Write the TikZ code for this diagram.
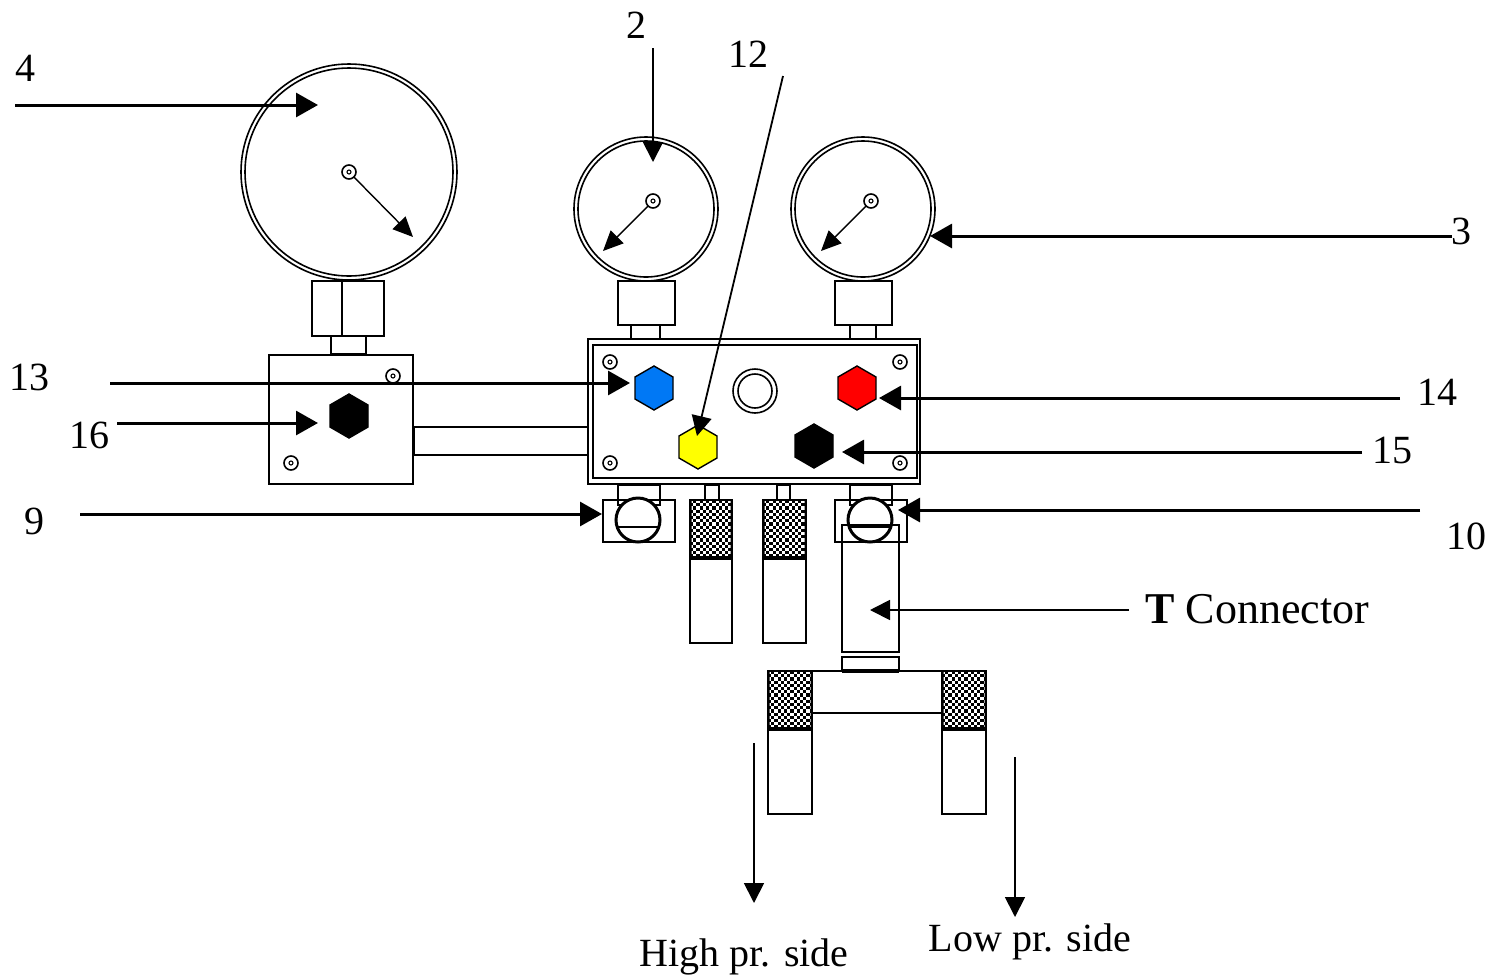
\documentclass[tikz,border=0pt]{standalone}
\usepackage{fontspec}
\setmainfont{Liberation Serif}
\usetikzlibrary{arrows.meta}
\tikzset{
  part/.style={draw=black,line width=1pt,fill=white},
  partopen/.style={draw=black,line width=1pt},
  thinring/.style={draw=black,line width=0.55pt},
  bigarrow/.style={draw=black,line width=1.5pt,-{Triangle[length=11pt,width=12pt]}},
  midarrow/.style={draw=black,line width=0.9pt,-{Triangle[length=10pt,width=10pt]}},
  needle/.style={draw=black,line width=0.7pt,-{Triangle[length=10pt,width=9pt]}},
  lbl/.style={font=\fontsize{20}{20}\selectfont,inner sep=0pt,text=black},
  lblbig/.style={font=\fontsize{22}{22}\selectfont,inner sep=0pt,text=black},
  hexagon/.style={draw=black,line width=0.7pt}
}
\definecolor{hexblue}{RGB}{0,120,245}
\definecolor{hexred}{RGB}{255,0,0}
\definecolor{hexyellow}{RGB}{255,255,0}
% checker block: x1,y1,x2,y2 in px
\newcommand{\checker}[4]{%
  \fill[black] (#1,#2) rectangle (#3,#4);
  \begin{scope}
    \clip (#1+1.5,#2+1.5) rectangle (#3-1.5,#4-3);
    \foreach \ci in {0,...,15}{\foreach \cj in {0,...,19}{%
      \pgfmathparse{int(mod(\ci+\cj,2))}%
      \ifnum\pgfmathresult=0
        \fill[white] (#1+\ci*3.2,#2+\cj*3.2) rectangle +(3.2,3.2);
      \fi}}
  \end{scope}
  \draw[line width=1pt] (#1,#2) rectangle (#3,#4);
  \draw[line width=2pt] (#1,#4) -- (#3,#4);
}
\newcommand{\hexa}[3]{% cx,cy,colour
  \fill[#3,hexagon] (#1,#2-22) -- (#1+19,#2-11) -- (#1+19,#2+11) -- (#1,#2+22) -- (#1-19,#2+11) -- (#1-19,#2-11) -- cycle;
}
\newcommand{\screw}[2]{%
  \draw[thinring,line width=0.8pt] (#1,#2) circle (7);
  \draw[thinring] (#1,#2) circle (2);
}
\begin{document}
\begin{tikzpicture}[x=0.5pt,y=-0.5pt]
\useasboundingbox (0,0) rectangle (1490,976);
\fill[white] (0,0) rectangle (1490,976);

% left gauge stem and block
\draw[part] (331,336) rectangle (366,354);
\draw[part] (312,281) rectangle (384,336);
\draw[partopen] (342,281) -- (342,337);
\draw[part] (269,355) rectangle (413,484);
\screw{393}{376}
\screw{291}{463}
\hexa{349}{416}{black}
\draw[part] (414,427) rectangle (588,455);

% gauges
\draw[thinring,line width=0.8pt] (349,172) circle (108);
\draw[thinring,line width=0.8pt] (349,172) circle (104);
\draw[thinring,line width=0.8pt] (646,209) circle (72);
\draw[thinring,line width=0.8pt] (646,209) circle (68);
\draw[thinring,line width=0.8pt] (863,209) circle (72);
\draw[thinring,line width=0.8pt] (863,209) circle (68);

% stems
\draw[part] (631,325) rectangle (660,339);
\draw[part] (618,281) rectangle (675,325);
\draw[part] (850,325) rectangle (876,339);
\draw[part] (835,281) rectangle (892,325);

% manifold
\draw[part] (588,339) rectangle (920,484);
\draw[partopen] (593,345) rectangle (917,478);
\foreach \sx/\sy in {610/362,900/362,610/463,900/463}{\screw{\sx}{\sy}}
\hexa{654}{388}{hexblue}
\hexa{857}{388}{hexred}
\hexa{698}{447}{hexyellow}
\hexa{814}{446}{black}
\draw[thinring,line width=0.8pt] (755,391) circle (22);
\draw[thinring,line width=0.8pt] (755,391) circle (17);

% left valve
\draw[part] (618,485) rectangle (660,505);
\draw[part,fill=none] (603,500) rectangle (675,542);
\draw[part,line width=1.5pt] (638,520) circle (22);
\draw[partopen] (617,527) -- (659,527);
% right valve
\draw[part] (850,485) rectangle (892,505);
\draw[part,fill=none] (835,500) rectangle (907,542);
\draw[part,line width=1.5pt] (870,520) circle (22);
\draw[partopen,line width=1.5pt] (849,526) -- (891,526);
% T connector body
\draw[partopen] (842,525) rectangle (899,652);
\draw[partopen] (842,657) rectangle (899,671);
\draw[line width=2pt] (842,671) -- (899,671);

% hoses
\draw[part] (705,485) rectangle (719,500);
\draw[part] (690,558) rectangle (732,643);
\checker{690}{500}{732}{558}
\draw[part] (777,485) rectangle (790,500);
\draw[part] (763,558) rectangle (806,643);
\checker{763}{500}{806}{558}

% T bottom
\draw[partopen] (812,671) -- (942,671);
\draw[partopen] (812,713) -- (942,713);
\draw[part] (768,729) rectangle (812,814);
\checker{768}{671}{812}{729}
\draw[part] (942,729) rectangle (986,814);
\checker{942}{671}{986}{729}

% labels
\node[lbl] (n4) at (26,68) {4};
\node[lbl] (n2) at (636,25) {2};
\node[lbl] (n12) at (748,54) {12};
\node[lbl] (n3) at (1461,231) {3};
\node[lbl] (n13) at (30,377) {13};
\node[lbl] (n16) at (89,435) {16};
\node[lbl] (n14) at (1437,392) {14};
\node[lbl] (n15) at (1392,450) {15};
\node[lbl] (n9) at (35,521) {9};
\node[lbl] (n10) at (1466,536) {10};
\node[lblbig,anchor=west] (nT) at (1145,609) {\textbf{T} Connector};
\node[lbl] (nH) at (744,957) {High pr. side};
\node[lbl] (nL) at (1030,942) {Low pr. side};

% connector ends
\coordinate (a4s) at (15,105);    \coordinate (a4e) at (318,105);
\coordinate (a2s) at (653,48);    \coordinate (a2e) at (653,162);
\coordinate (a12s) at (783,76);   \coordinate (a12e) at (697,436);
\coordinate (a3s) at (1452,236);  \coordinate (a3e) at (930,236);
\coordinate (a13s) at (110,383);  \coordinate (a13e) at (630,383);
\coordinate (a16s) at (117,423);  \coordinate (a16e) at (318,423);
\coordinate (a14s) at (1400,398); \coordinate (a14e) at (879,398);
\coordinate (a15s) at (1362,452); \coordinate (a15e) at (842,452);
\coordinate (a9s) at (80,514);    \coordinate (a9e) at (602,514);
\coordinate (a10s) at (1420,510); \coordinate (a10e) at (898,510);
\coordinate (aTs) at (1129,610);  \coordinate (aTe) at (870,610);
\coordinate (aHs) at (754,743);   \coordinate (aHe) at (754,903);
\coordinate (aLs) at (1015,757);  \coordinate (aLe) at (1015,917);

\foreach \a in {a4,a3,a13,a16,a14,a15,a9,a10}{\draw[bigarrow] (\a s) -- (\a e);}
\foreach \a in {a2,a12,aT,aH,aL}{\draw[midarrow] (\a s) -- (\a e);}

% needles
\coordinate (p4) at (349,172); \coordinate (t4) at (413,237);
\coordinate (p2) at (653,201); \coordinate (t2) at (603,251);
\coordinate (p3) at (871,201); \coordinate (t3) at (821,251);
\foreach \g in {4,2,3}{
  \draw[needle] (p\g) -- (t\g);
  \draw[thinring,line width=0.8pt,fill=white] (p\g) circle (7);
  \draw[thinring] (p\g) circle (2);
}
\end{tikzpicture}
\end{document}
